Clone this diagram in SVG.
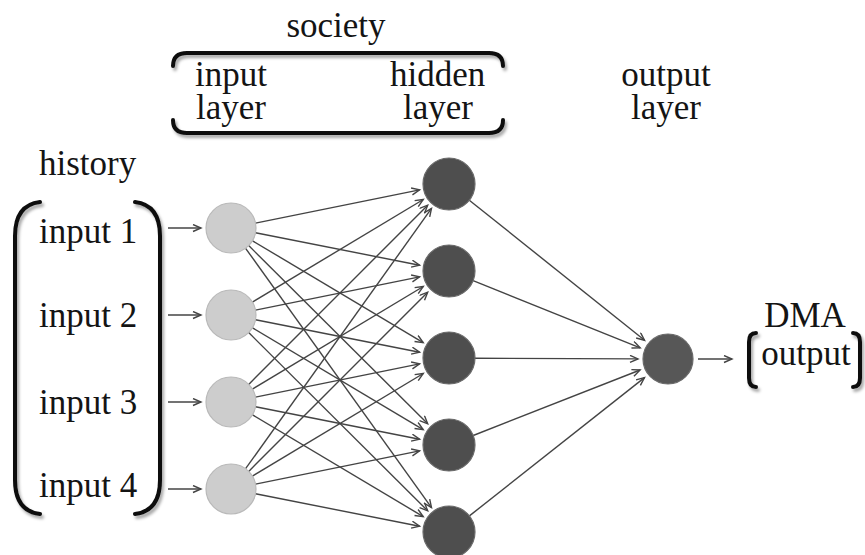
<svg xmlns="http://www.w3.org/2000/svg" width="865" height="555" viewBox="0 0 865 555">
  <defs>
    <marker id="arr" markerUnits="userSpaceOnUse" markerWidth="12" markerHeight="12" refX="9" refY="4" orient="auto">
      <path d="M1,0.5 L9,4 L1,7.5" fill="none" stroke="#444" stroke-width="1.4"/>
    </marker>
    <filter id="shadow" x="-20%" y="-20%" width="140%" height="140%">
      <feDropShadow dx="2" dy="3" stdDeviation="1.5" flood-color="#000" flood-opacity="0.35"/>
    </filter>
  </defs>
  <rect width="865" height="555" fill="#fff"/>

  <!-- brackets -->
  <g id="brackets" fill="none" stroke="#111" stroke-width="4" stroke-linecap="round" filter="url(#shadow)">
    <path d="M173,66 Q173,53 187,53 L489,53 Q503,53 503,66"/>
    <path d="M173,120 Q173,133 187,133 L489,133 Q503,133 503,120"/>
    <path d="M40,202 Q15,205 15,236 L15,480 Q15,511 40,514"/>
    <path d="M135,202 Q160,205 160,236 L160,480 Q160,511 135,514"/>
    <path d="M756,333 Q749,333 749,342 L749,378 Q749,387 756,387"/>
    <path d="M853,333 Q860,333 860,342 L860,378 Q860,387 853,387"/>
  </g>

  <!-- captions -->
  <text font-family="Liberation Serif" font-size="35" fill="#141414" x="336" y="37" text-anchor="middle"><tspan style="font-family:'Liberation Serif',serif">society</tspan></text>
  <text font-family="Liberation Serif" font-size="35" fill="#141414" x="195" y="86"><tspan style="font-family:'Liberation Serif',serif">input</tspan></text>
  <text font-family="Liberation Serif" font-size="35" fill="#141414" x="196" y="119"><tspan style="font-family:'Liberation Serif',serif">layer</tspan></text>
  <text font-family="Liberation Serif" font-size="35" fill="#141414" x="390" y="86"><tspan style="font-family:'Liberation Serif',serif">hidden</tspan></text>
  <text font-family="Liberation Serif" font-size="35" fill="#141414" x="403" y="119"><tspan style="font-family:'Liberation Serif',serif">layer</tspan></text>
  <text font-family="Liberation Serif" font-size="35" fill="#141414" x="666" y="86" text-anchor="middle"><tspan style="font-family:'Liberation Serif',serif">output</tspan></text>
  <text font-family="Liberation Serif" font-size="35" fill="#141414" x="666" y="119" text-anchor="middle"><tspan style="font-family:'Liberation Serif',serif">layer</tspan></text>
  <text font-family="Liberation Serif" font-size="35" fill="#141414" x="39" y="175"><tspan style="font-family:'Liberation Serif',serif">history</tspan></text>
  <text font-family="Liberation Serif" font-size="35" fill="#141414" x="39" y="243"><tspan style="font-family:'Liberation Serif',serif">input 1</tspan></text>
  <text font-family="Liberation Serif" font-size="35" fill="#141414" x="39" y="327"><tspan style="font-family:'Liberation Serif',serif">input 2</tspan></text>
  <text font-family="Liberation Serif" font-size="35" fill="#141414" x="39" y="414"><tspan style="font-family:'Liberation Serif',serif">input 3</tspan></text>
  <text font-family="Liberation Serif" font-size="35" fill="#141414" x="39" y="497"><tspan style="font-family:'Liberation Serif',serif">input 4</tspan></text>
  <text font-family="Liberation Serif" font-size="35" fill="#141414" x="805" y="327" text-anchor="middle"><tspan style="font-family:'Liberation Serif',serif">DMA</tspan></text>
  <text font-family="Liberation Serif" font-size="35" fill="#141414" x="806" y="365" text-anchor="middle"><tspan style="font-family:'Liberation Serif',serif">output</tspan></text>

  <!-- connectors -->
  <g id="connectors" stroke="#444" stroke-width="1.4" fill="none" marker-end="url(#arr)">
    <line x1="168" y1="228" x2="201" y2="228"/>
    <line x1="168" y1="315" x2="201" y2="315"/>
    <line x1="168" y1="402" x2="201" y2="402"/>
    <line x1="168" y1="489" x2="201" y2="489"/>

    <line x1="255.5" y1="223.1" x2="419.6" y2="189.9"/>
    <line x1="255.5" y1="232.8" x2="419.6" y2="265.2"/>
    <line x1="252.5" y1="240.8" x2="423.2" y2="342.6"/>
    <line x1="248.7" y1="245.6" x2="427.7" y2="423.8"/>
    <line x1="245.6" y1="248.3" x2="431.5" y2="507.6"/>

    <line x1="252.4" y1="302.1" x2="423.3" y2="199.5"/>
    <line x1="255.5" y1="310.1" x2="419.6" y2="276.9"/>
    <line x1="255.5" y1="319.8" x2="419.6" y2="352.2"/>
    <line x1="252.5" y1="327.8" x2="423.2" y2="429.6"/>
    <line x1="248.7" y1="332.6" x2="427.7" y2="510.8"/>

    <line x1="248.7" y1="384.4" x2="427.7" y2="205.2"/>
    <line x1="252.4" y1="389.1" x2="423.3" y2="286.5"/>
    <line x1="255.5" y1="397.1" x2="419.6" y2="363.9"/>
    <line x1="255.5" y1="406.8" x2="419.6" y2="439.2"/>
    <line x1="252.5" y1="414.8" x2="423.2" y2="516.6"/>

    <line x1="245.6" y1="468.7" x2="431.5" y2="208.4"/>
    <line x1="248.7" y1="471.4" x2="427.7" y2="292.2"/>
    <line x1="252.4" y1="476.1" x2="423.3" y2="373.5"/>
    <line x1="255.5" y1="484.1" x2="419.6" y2="450.9"/>
    <line x1="255.5" y1="493.8" x2="419.6" y2="526.2"/>

    <line x1="469.3" y1="200.2" x2="644.6" y2="340.3"/>
    <line x1="473.1" y1="280.7" x2="640.2" y2="347.8"/>
    <line x1="475" y1="358.2" x2="638" y2="358.9"/>
    <line x1="473.2" y1="435.5" x2="640.1" y2="370"/>
    <line x1="469.4" y1="515.9" x2="644.5" y2="377.6"/>

    <line x1="698" y1="359" x2="732" y2="359"/>
  </g>

  <!-- input layer -->
  <g fill="#cdcdcd" stroke="#b9b9b9" stroke-width="1.2">
    <g id="in1"><circle cx="231" cy="228" r="25"/></g>
    <g id="in2"><circle cx="231" cy="315" r="25"/></g>
    <g id="in3"><circle cx="231" cy="402" r="25"/></g>
    <g id="in4"><circle cx="231" cy="489" r="25"/></g>
  </g>

  <!-- hidden layer and output node -->
  <g fill="#4e4e4e" stroke="#6a6a6a" stroke-width="1.2">
    <g id="h1"><circle cx="449" cy="184" r="26"/></g>
    <g id="h2"><circle cx="449" cy="271" r="26"/></g>
    <g id="h3"><circle cx="449" cy="358" r="26"/></g>
    <g id="h4"><circle cx="449" cy="445" r="26"/></g>
    <g id="h5"><circle cx="449" cy="532" r="26"/></g>
    <g id="out"><circle cx="668" cy="359" r="25" fill="#575757"/></g>
  </g>
</svg>
